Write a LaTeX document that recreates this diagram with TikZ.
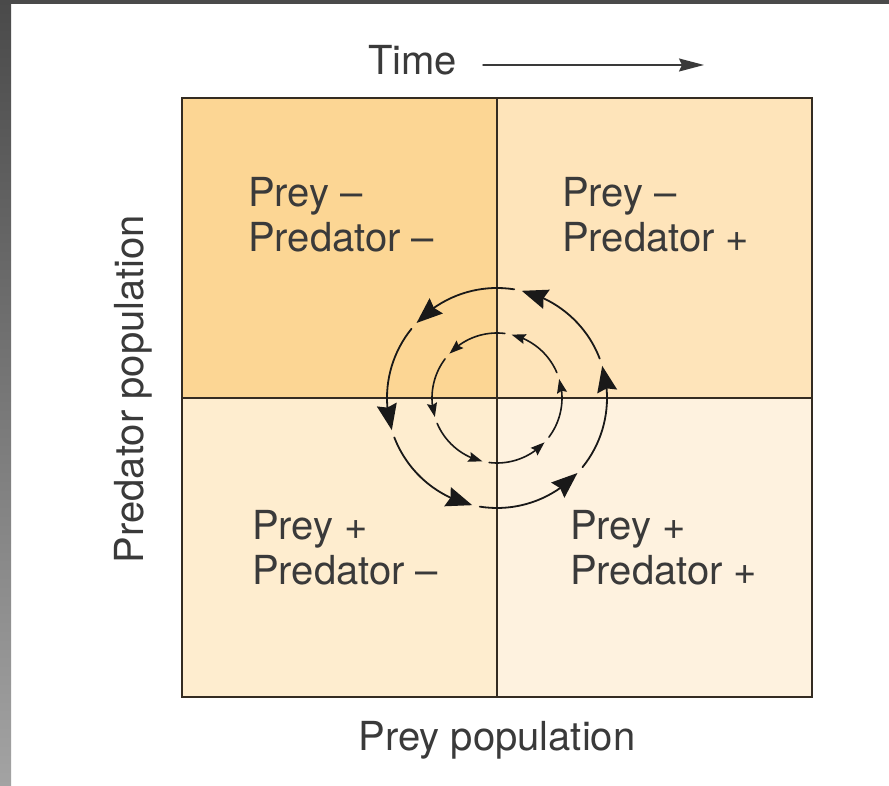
\documentclass[tikz,border=0pt]{standalone}
\usepackage{fontspec}
\setmainfont{TeX Gyre Heros}
\usepackage{tikz}
\usetikzlibrary{arrows.meta,bending}
\usepackage{xcolor}
\definecolor{quadTL}{RGB}{252,214,148}
\definecolor{quadTR}{RGB}{254,228,186}
\definecolor{quadBL}{RGB}{254,237,207}
\definecolor{quadBR}{RGB}{254,242,223}
\definecolor{axisline}{RGB}{52,44,34}
\definecolor{txtgray}{RGB}{58,58,58}
\definecolor{frameTop}{RGB}{74,74,74}
\definecolor{frameBot}{RGB}{163,163,163}

\begin{document}
\begin{tikzpicture}[x=1pt,y=1pt,line cap=round,
  >={Stealth[length=25pt,width=13pt,inset=3pt]},
  lbl/.style={inner sep=0pt,text=txtgray,font=\fontsize{40}{45}\selectfont},
  quadlbl/.style={lbl,align=left,anchor=north west},
  cycout/.style={line width=1.8pt,black!90,-{Stealth[length=26pt,width=20pt,inset=3pt]}},
  cycin/.style={line width=1.6pt,black!90,-{Stealth[length=14pt,width=10pt,inset=2pt]}}]
\useasboundingbox (0,0) rectangle (889,786);
\fill[white] (0,0) rectangle (889,786);
\shade[top color=frameTop,bottom color=frameBot] (0,0) rectangle (11,786);
\fill[frameTop] (0,782) rectangle (889,786);

% quadrants
\coordinate (sw) at (182,89);
\coordinate (ne) at (812,688);
\coordinate (c) at (497,388);
\fill[quadTL] (sw |- c) rectangle (c |- ne);
\fill[quadTR] (c) rectangle (ne);
\fill[quadBL] (sw) rectangle (c);
\fill[quadBR] (c |- sw) rectangle (ne |- c);
\draw[axisline,line width=1.4pt] (c |- sw) -- (c |- ne);
\draw[axisline,line width=1.4pt] (sw |- c) -- (ne |- c);
\draw[axisline,line width=2.4pt] (sw) rectangle (ne);

% outer cycle
\draw[cycout] ([shift={(-39:110)}]c) arc[start angle=-39,end angle=17,radius=110];
\draw[cycout] ([shift={(21:110)}]c) arc[start angle=21,end angle=77,radius=110];
\draw[cycout] ([shift={(81:110)}]c) arc[start angle=81,end angle=137,radius=110];
\draw[cycout] ([shift={(141:110)}]c) arc[start angle=141,end angle=197,radius=110];
\draw[cycout] ([shift={(201:110)}]c) arc[start angle=201,end angle=257,radius=110];
\draw[cycout] ([shift={(261:110)}]c) arc[start angle=261,end angle=317,radius=110];
% inner cycle
\draw[cycin] ([shift={(-37:65)}]c) arc[start angle=-37,end angle=17,radius=65];
\draw[cycin] ([shift={(23:65)}]c) arc[start angle=23,end angle=77,radius=65];
\draw[cycin] ([shift={(83:65)}]c) arc[start angle=83,end angle=137,radius=65];
\draw[cycin] ([shift={(143:65)}]c) arc[start angle=143,end angle=197,radius=65];
\draw[cycin] ([shift={(203:65)}]c) arc[start angle=203,end angle=257,radius=65];
\draw[cycin] ([shift={(263:65)}]c) arc[start angle=263,end angle=317,radius=65];

% labels
\node[quadlbl] (tl) at (248,609) {Prey --\\Predator --};
\node[quadlbl] (tr) at (562,609) {Prey --\\Predator +};
\node[quadlbl] (bl) at (252,276) {Prey +\\Predator --};
\node[quadlbl] (br) at (570,276) {Prey +\\Predator +};

\node[lbl,anchor=base west] (time) at (368,711) {Time};
\coordinate (tstart) at (483,721);
\coordinate (tend) at (704,721);
\draw[->,txtgray,line width=1.5pt] (tstart) -- (tend);
\node[lbl] (xlab) at (497,46) {Prey population};
\node[lbl,rotate=90] (ylab) at (133,397) {Predator population};
\end{tikzpicture}
\end{document}
